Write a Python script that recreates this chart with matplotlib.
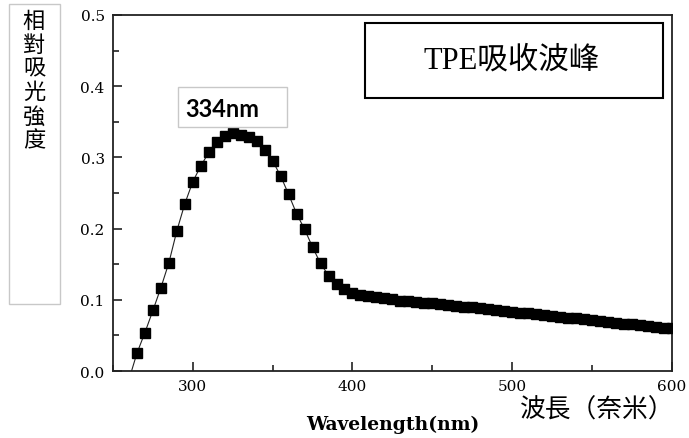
"""TPE absorption spectrum, redrawn with matplotlib."""
import matplotlib
matplotlib.use("Agg")
import matplotlib.pyplot as plt
from matplotlib.patches import Rectangle

# wavelength (nm) and relative absorbance
wavelength = [260, 265, 270, 275, 280, 285, 290, 295, 300, 305, 310, 315, 320,
              325, 330, 335, 340, 345, 350, 355, 360, 365, 370, 375, 380, 385,
              390, 395, 400, 405, 410, 415, 420, 425, 430, 435, 440, 445, 450,
              455, 460, 465, 470, 475, 480, 485, 490, 495, 500, 505, 510, 515,
              520, 525, 530, 535, 540, 545, 550, 555, 560, 565, 570, 575, 580,
              585, 590, 595, 600]
absorbance = [-0.012, 0.025, 0.054, 0.085, 0.117, 0.152, 0.197, 0.235, 0.266,
              0.288, 0.307, 0.322, 0.330, 0.334, 0.332, 0.329, 0.323, 0.311,
              0.295, 0.274, 0.248, 0.221, 0.199, 0.174, 0.151, 0.134, 0.122,
              0.115, 0.110, 0.107, 0.105, 0.1035, 0.102, 0.1005, 0.099, 0.098,
              0.097, 0.0962, 0.0952, 0.0940, 0.0928, 0.0916, 0.0904, 0.0892,
              0.0880, 0.0868, 0.0857, 0.0845, 0.0833, 0.0821, 0.0809, 0.0797,
              0.0786, 0.0774, 0.0762, 0.0750, 0.0738, 0.0726, 0.0714, 0.0702,
              0.0691, 0.0679, 0.0667, 0.0655, 0.0643, 0.0631, 0.0620, 0.0608,
              0.0597]

x_ticks = [300, 400, 500, 600]
y_ticks = [0.0, 0.1, 0.2, 0.3, 0.4, 0.5]

peak_label = "334nm"
title_label = "TPE吸收波峰"
y_label_zh = "相對吸光強度"
x_label_zh = "波長（奈米）"
x_label_en = "Wavelength(nm)"

SERIF = "DejaVu Serif"
CJK = ["Noto Sans CJK TC", "DejaVu Sans"]

fig = plt.figure(figsize=(6.89, 4.39), dpi=100)
ax = fig.add_axes([0.164, 0.1526, 0.811, 0.811])

ax.plot(wavelength, absorbance, "-", color="#222222", lw=0.8, zorder=2)
ax.plot(wavelength, absorbance, "s", color="black", ms=6.8, zorder=3)

ax.set_xlim(250, 600)
ax.set_ylim(0, 0.5)
ax.set_xticks(x_ticks)
ax.set_yticks(y_ticks)
ax.set_xticks(range(250, 601, 50), minor=True)
ax.set_yticks([0.05, 0.15, 0.25, 0.35, 0.45], minor=True)
ax.set_yticklabels([f"{v:.1f}" for v in y_ticks], family=SERIF, fontsize=11)
ax.set_xticklabels([str(v) for v in x_ticks], family=SERIF, fontsize=11)
ax.tick_params(which="both", direction="in", top=False, right=False,
               width=1.2, color="#222222")
ax.tick_params(which="major", length=6.5, pad=6)
ax.tick_params(which="minor", length=4)
for sp in ax.spines.values():
    sp.set_linewidth(1.3)
    sp.set_color("#222222")

ax.set_xlabel(x_label_en, family=SERIF, fontsize=13.5, fontweight="bold")
ax.xaxis.set_label_coords(0.5, -0.122)

# peak annotation box
ax.add_patch(Rectangle((290.6, 0.343), 68.2, 0.056, facecolor="white",
                       edgecolor="#c8c8c8", lw=1, zorder=4, clip_on=False))
ax.text(295, 0.369, peak_label, fontsize=17, fontweight="bold",
        family="Lato", va="center", ha="left", zorder=5)

# title box
ax.add_patch(Rectangle((408, 0.3834), 186.4, 0.1054, facecolor="white",
                       edgecolor="black", lw=1.5, zorder=4))
ax.text(499.4, 0.437, title_label, fontsize=22,
        family=["Liberation Serif", "Noto Sans CJK TC"],
        va="center", ha="center", zorder=5)

# chinese axis captions
fig.add_artist(Rectangle((9 / 689, 1 - 305 / 439), 51 / 689, 300 / 439,
                         transform=fig.transFigure, facecolor="white",
                         edgecolor="#c8c8c8", lw=1))
fig.text(34 / 689, 1 - 81 / 439, "\n".join(y_label_zh), family=CJK,
         fontsize=16, ha="center", va="center", linespacing=1.05)
fig.text(597 / 689, 1 - 411 / 439, x_label_zh, family=CJK, fontsize=18.5,
         ha="center", va="center")

fig.savefig("out.png", dpi=100)
